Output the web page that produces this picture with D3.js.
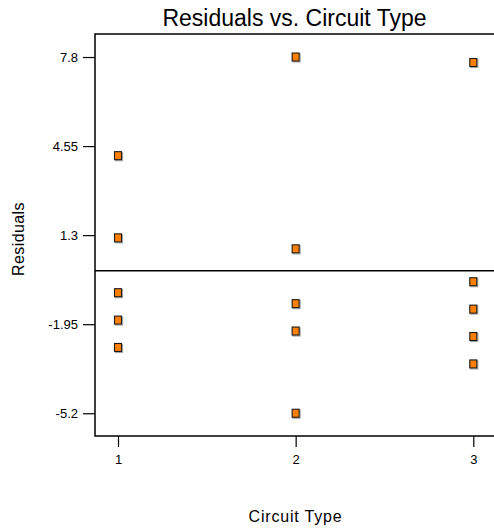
<!DOCTYPE html>
<html>
<head>
<meta charset="utf-8">
<script src="https://cdn.jsdelivr.net/npm/d3@7"></script>
<style>
  html, body { margin: 0; padding: 0; background: #fff; }
  svg { display: block; font-family: Arial, "Liberation Sans", sans-serif; }
</style>
</head>
<body>
<svg id="chart" width="494" height="529"></svg>
<script>
// Residuals for each circuit type (five runs per type)
const circuitTypes = [1, 2, 3];
const residualsType1 = [4.2, 1.2, -0.8, -1.8, -2.8];
const residualsType2 = [7.8, 0.8, -1.2, -2.2, -5.2];
const residualsType3 = [7.6, -0.4, -1.4, -2.4, -3.4];
const yTickValues = [-5.2, -1.95, 1.3, 4.55, 7.8];
const yTickLabels = ["-5.2", "-1.95", "1.3", "4.55", "7.8"];
const xTickLabels = ["1", "2", "3"];

const groups = [residualsType1, residualsType2, residualsType3];
const points = [];
groups.forEach((vals, i) => vals.forEach(v => points.push({ type: circuitTypes[i], r: v })));

const plot = { left: 95, top: 34, right: 494, bottom: 436 };
const FONT = "Arial, 'Liberation Sans', sans-serif";

const svg = d3.select("#chart");

const x = d3.scaleLinear().domain([0.8705, 3.1165]).range([plot.left, plot.right]);
const y = d3.scaleLinear().domain([-6.03, 8.64]).range([plot.bottom, plot.top]);

// Title
svg.append("text")
  .attr("x", (plot.left + plot.right) / 2)
  .attr("y", 26)
  .attr("text-anchor", "middle")
  .attr("font-size", 23)
  .attr("fill", "#000")
  .text("Residuals vs. Circuit Type");

// Frame: left, bottom and top edges
svg.append("path")
  .attr("d", `M${plot.right},${plot.top}H${plot.left}V${plot.bottom}H${plot.right}`)
  .attr("fill", "none")
  .attr("stroke", "#000")
  .attr("stroke-width", 1.5);

// Y axis
const yAxis = d3.axisLeft(y)
  .tickValues(yTickValues)
  .tickFormat((d, i) => yTickLabels[i])
  .tickSize(12)
  .tickPadding(5);
const gy = svg.append("g").attr("transform", `translate(${plot.left},0)`).call(yAxis);
gy.select(".domain").remove();
gy.selectAll(".tick line").attr("stroke", "#000").attr("stroke-width", 1.2);
gy.selectAll(".tick text").attr("font-size", 13).attr("fill", "#000").attr("font-family", FONT);

// X axis
const xAxis = d3.axisBottom(x)
  .tickValues(circuitTypes)
  .tickFormat((d, i) => xTickLabels[i])
  .tickSize(11)
  .tickPadding(8);
const gx = svg.append("g").attr("transform", `translate(0,${plot.bottom})`).call(xAxis);
gx.select(".domain").remove();
gx.selectAll(".tick line").attr("stroke", "#000").attr("stroke-width", 1.2);
gx.selectAll(".tick text").attr("font-size", 13).attr("fill", "#000").attr("font-family", FONT);

// Zero reference line
svg.append("line")
  .attr("x1", plot.left).attr("x2", plot.right)
  .attr("y1", y(0)).attr("y2", y(0))
  .attr("stroke", "#000")
  .attr("stroke-width", 1.5);

// Axis titles
svg.append("text")
  .attr("transform", `translate(24,${(plot.top + plot.bottom) / 2 + 4}) rotate(-90)`)
  .attr("text-anchor", "middle")
  .attr("font-size", 16)
  .attr("letter-spacing", 0.4)
  .attr("fill", "#000")
  .text("Residuals");

svg.append("text")
  .attr("x", (plot.left + plot.right) / 2 + 1)
  .attr("y", 522)
  .attr("text-anchor", "middle")
  .attr("font-size", 16)
  .attr("letter-spacing", 0.8)
  .attr("fill", "#000")
  .text("Circuit Type");

// Markers: square with a soft gray drop shadow
const mw = 7, mh = 8;
const marks = svg.append("g");
marks.selectAll("rect.shadow")
  .data(points)
  .join("rect")
  .attr("class", "shadow")
  .attr("x", d => x(d.type) - mw / 2 + 1)
  .attr("y", d => y(d.r) - mh / 2 + 1)
  .attr("width", mw)
  .attr("height", mh)
  .attr("fill", "none")
  .attr("stroke", "#aaa")
  .attr("stroke-width", 1.2);
marks.selectAll("rect.pt")
  .data(points)
  .join("rect")
  .attr("class", "pt")
  .attr("x", d => x(d.type) - mw / 2)
  .attr("y", d => y(d.r) - mh / 2)
  .attr("width", mw)
  .attr("height", mh)
  .attr("fill", "#ff8000")
  .attr("stroke", "#1a1a1a")
  .attr("stroke-width", 1.1);
</script>
</body>
</html>
